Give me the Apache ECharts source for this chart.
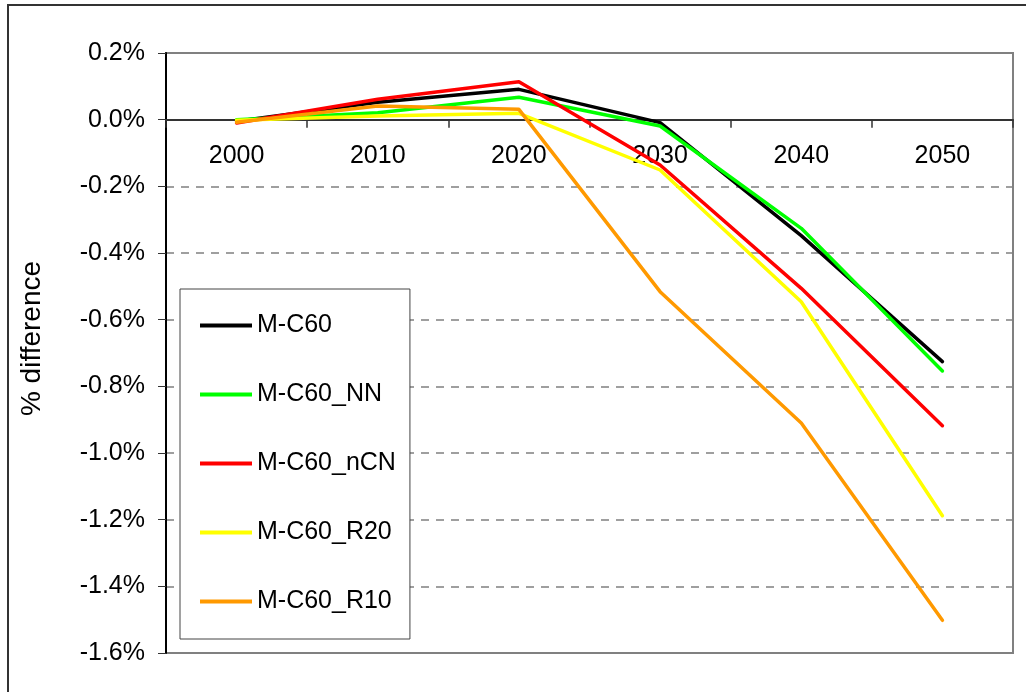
<!DOCTYPE html>
<html lang="en">
<head>
    <meta charset="UTF-8">
    <title>% difference</title>
    <script src="https://cdn.jsdelivr.net/npm/echarts@6/dist/echarts.min.js"></script>
</head>
<body style="margin:0;background:#fff;">
<div id="box" style="width: 1026px;height: 692px;"></div>
<script>
    // values, in percent
    var years = ['2000', '2010', '2020', '2030', '2040', '2050'];
    var seriesNames = ['M-C60', 'M-C60_NN', 'M-C60_nCN', 'M-C60_R20', 'M-C60_R10'];
    var mC60 = [-0.005, 0.052, 0.091, -0.009, -0.348, -0.726];
    var mC60NN = [0.0, 0.021, 0.067, -0.019, -0.326, -0.754];
    var mC60nCN = [-0.010, 0.061, 0.114, -0.136, -0.506, -0.918];
    var mC60R20 = [-0.002, 0.011, 0.019, -0.151, -0.546, -1.188];
    var mC60R10 = [-0.008, 0.041, 0.031, -0.516, -0.910, -1.502];
    var colors = ['#000000', '#00ff00', '#ff0000', '#ffff00', '#ff9900'];

    var yMin = -1.6, yMax = 0.2;
    var gridTop = 53, gridBottom = 39, boxH = 692;
    // x axis sits on the 0% line, so shift it up from the bottom of the grid
    var plotH = boxH - gridTop - gridBottom;
    var zeroOffset = -(plotH * (0 - yMin) / (yMax - yMin));

    var font = "'Liberation Sans', Arial, sans-serif";
    var myChart = echarts.init(document.getElementById('box'));

    function makeLine(name, data, color) {
        return {
            name: name,
            type: 'line',
            data: data,
            symbol: 'none',
            color: color,
            lineStyle: {color: color, width: 3.5, cap: 'round', join: 'round'},
            emphasis: {disabled: true}
        };
    }

    var option = {
        animation: false,
        textStyle: {fontFamily: font},
        grid: {
            left: 166, top: gridTop, right: 13, bottom: gridBottom,
            show: true, borderColor: '#808080', borderWidth: 2
        },
        graphic: [{
            type: 'rect',
            shape: {x: 8, y: 5, width: 1040, height: 720},
            style: {fill: 'none', stroke: '#333', lineWidth: 2},
            silent: true
        }],
        legend: {
            orient: 'vertical',
            left: 180, top: 289,
            padding: [24, 14, 25, 20],
            icon: 'rect',
            itemWidth: 52, itemHeight: 4, itemGap: 44,
            itemStyle: {borderWidth: 0},
            backgroundColor: '#fff',
            borderColor: '#444', borderWidth: 1, borderRadius: 0,
            textStyle: {fontFamily: font, fontSize: 25, color: '#000', lineHeight: 25},
            data: seriesNames
        },
        xAxis: {
            type: 'category',
            data: years,
            boundaryGap: true,
            offset: zeroOffset,
            axisLine: {onZero: false, lineStyle: {color: '#333', width: 2}},
            axisTick: {show: true, inside: false, length: 8, lineStyle: {color: '#333', width: 1.5}},
            axisLabel: {fontFamily: font, fontSize: 25, color: '#000', margin: 24},
            splitLine: {show: false},
            z: 3
        },
        yAxis: {
            type: 'value',
            min: yMin, max: yMax, interval: 0.2,
            name: '% difference',
            nameLocation: 'middle',
            nameGap: 120,
            nameTextStyle: {fontFamily: font, fontSize: 28, color: '#000', padding: [0, 0, 0, 29]},
            axisLine: {show: true, onZero: false, lineStyle: {color: '#000', width: 2}},
            axisTick: {show: true, length: 8, lineStyle: {color: '#333', width: 1}},
            axisLabel: {
                fontFamily: font, fontSize: 25, color: '#000', margin: 21,
                formatter: function (v) {
                    if (Math.abs(v) < 1e-9) v = 0;
                    return v.toFixed(1) + '%';
                }
            },
            splitLine: {show: true, lineStyle: {color: '#808080', width: 1.5, type: [8, 7]}}
        },
        series: [
            makeLine(seriesNames[0], mC60, colors[0]),
            makeLine(seriesNames[1], mC60NN, colors[1]),
            makeLine(seriesNames[2], mC60nCN, colors[2]),
            makeLine(seriesNames[3], mC60R20, colors[3]),
            makeLine(seriesNames[4], mC60R10, colors[4])
        ]
    };
    myChart.setOption(option);
</script>
</body>
</html>
